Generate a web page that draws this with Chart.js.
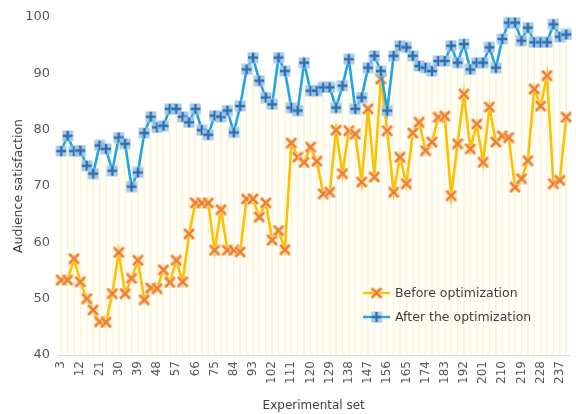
<!DOCTYPE html>
<html>
<head>
<meta charset="utf-8">
<script src="https://cdn.jsdelivr.net/npm/chart.js@4.4.1/dist/chart.umd.min.js"></script>
<style>
  html, body { margin: 0; padding: 0; background: #ffffff; overflow: hidden; }
  canvas { display: block; }
</style>
</head>
<body>
<canvas id="chart" width="576" height="414"></canvas>
<script>
// Experimental set numbers (one point every 3 sets)
const experimentalSets = [
  3, 6, 9, 12, 15, 18, 21, 24, 27, 30, 33, 36, 39, 42, 45, 48, 51, 54, 57, 60,
  63, 66, 69, 72, 75, 78, 81, 84, 87, 90, 93, 96, 99, 102, 105, 108, 111, 114, 117, 120,
  123, 126, 129, 132, 135, 138, 141, 144, 147, 150, 153, 156, 159, 162, 165, 168, 171, 174, 177, 180,
  183, 186, 189, 192, 195, 198, 201, 204, 207, 210, 213, 216, 219, 222, 225, 228, 231, 234, 237, 240
];

// Audience satisfaction before optimization
const beforeOptimization = [
  53.3, 53.3, 57.1, 53.0, 50.0, 48.0, 45.9, 45.8, 50.9, 58.2,
  50.9, 53.6, 56.8, 49.8, 51.9, 51.8, 55.1, 52.9, 56.8, 53.0,
  61.5, 67.0, 67.0, 67.0, 58.6, 65.8, 58.6, 58.6, 58.3, 67.7,
  67.7, 64.5, 67.0, 60.4, 62.1, 58.7, 77.6, 75.1, 74.2, 76.9,
  74.4, 68.6, 68.9, 79.9, 72.2, 79.8, 79.2, 70.7, 83.7, 71.6,
  89.0, 79.8, 68.9, 75.1, 70.4, 79.4, 81.3, 76.3, 77.8, 82.2,
  82.4, 68.3, 77.5, 86.3, 76.6, 81.0, 74.2, 84.0, 77.8, 78.9,
  78.6, 69.8, 71.3, 74.5, 87.2, 84.2, 89.6, 70.4, 71.0, 82.2
];

// Audience satisfaction after the optimization
const afterOptimization = [
  76.2, 78.9, 76.2, 76.3, 73.6, 72.2, 77.2, 76.6, 72.7, 78.6,
  77.5, 69.9, 72.4, 79.4, 82.3, 80.4, 80.7, 83.7, 83.7, 82.3,
  81.3, 83.7, 79.9, 79.1, 82.5, 82.3, 83.4, 79.5, 84.2, 90.7,
  92.8, 88.7, 85.7, 84.5, 92.8, 90.4, 83.9, 83.4, 91.9, 86.9,
  86.9, 87.5, 87.5, 83.9, 87.8, 92.5, 83.7, 85.7, 91.0, 93.1,
  90.4, 83.4, 93.1, 94.9, 94.6, 93.1, 91.3, 91.0, 90.4, 92.2,
  92.2, 94.9, 91.9, 95.2, 90.7, 91.9, 91.9, 94.6, 91.0, 96.1,
  99.0, 99.0, 95.8, 98.1, 95.5, 95.5, 95.5, 98.7, 96.5, 96.9
];

const seriesNames = ['Before optimization', 'After the optimization'];
const yTicks = [40, 50, 60, 70, 80, 90, 100];

const BEFORE_LINE = '#FFC000';
const AFTER_LINE = '#1FA5E6';
const FONT = '"DejaVu Sans", Verdana, sans-serif';

// Orange "x" marker
function makeCrossMarker() {
  const s = 12, c = document.createElement('canvas');
  c.width = s; c.height = s;
  const g = c.getContext('2d');
  g.lineCap = 'round';
  g.strokeStyle = 'rgba(250,200,150,0.9)';
  g.lineWidth = 4;
  g.beginPath();
  g.moveTo(2, 2); g.lineTo(10, 10);
  g.moveTo(10, 2); g.lineTo(2, 10);
  g.stroke();
  g.strokeStyle = '#EC7B2C';
  g.lineWidth = 2.2;
  g.beginPath();
  g.moveTo(2, 2); g.lineTo(10, 10);
  g.moveTo(10, 2); g.lineTo(2, 10);
  g.stroke();
  return c;
}

// Blue "+" marker on a light square
function makePlusMarker() {
  const s = 12, c = document.createElement('canvas');
  c.width = s; c.height = s;
  const g = c.getContext('2d');
  g.fillStyle = 'rgba(158,197,232,0.9)';
  g.fillRect(0.5, 0.5, s - 1, s - 1);
  g.strokeStyle = '#2D6FB0';
  g.lineWidth = 2.4;
  g.beginPath();
  g.moveTo(6, 1); g.lineTo(6, 11);
  g.moveTo(1, 6); g.lineTo(11, 6);
  g.stroke();
  return c;
}

const crossMarker = makeCrossMarker();
const plusMarker = makePlusMarker();

// Legend drawn inside the plot, lower right
const innerLegend = {
  id: 'innerLegend',
  afterDatasetsDraw(chart) {
    const ctx = chart.ctx;
    const items = [
      { text: seriesNames[0], color: BEFORE_LINE, marker: crossMarker, y: 293 },
      { text: seriesNames[1], color: AFTER_LINE, marker: plusMarker, y: 317 }
    ];
    ctx.save();
    items.forEach(it => {
      ctx.strokeStyle = it.color;
      ctx.lineWidth = 2.5;
      ctx.beginPath();
      ctx.moveTo(363, it.y);
      ctx.lineTo(390, it.y);
      ctx.stroke();
      ctx.drawImage(it.marker, 376.5 - 6, it.y - 6);
      ctx.fillStyle = '#404040';
      ctx.font = '12.5px ' + FONT;
      ctx.textBaseline = 'middle';
      ctx.textAlign = 'left';
      ctx.fillText(it.text, 395, it.y + 0.5);
    });
    ctx.restore();
  }
};

new Chart(document.getElementById('chart'), {
  type: 'line',
  data: {
    labels: experimentalSets,
    datasets: [
      {
        type: 'bar',
        label: 'drop',
        data: afterOptimization,
        backgroundColor: 'rgba(253,236,160,0.55)',
        barThickness: 1,
        order: 3
      },
      {
        label: seriesNames[0],
        data: beforeOptimization,
        borderColor: BEFORE_LINE,
        borderWidth: 2.6,
        pointStyle: crossMarker,
        tension: 0,
        order: 2
      },
      {
        label: seriesNames[1],
        data: afterOptimization,
        borderColor: AFTER_LINE,
        borderWidth: 2.6,
        pointStyle: plusMarker,
        tension: 0,
        order: 1
      }
    ]
  },
  options: {
    responsive: false,
    animation: false,
    devicePixelRatio: 1,
    layout: { padding: { top: 17, left: 7, right: 1, bottom: 0 } },
    plugins: {
      legend: { display: false },
      tooltip: { enabled: false }
    },
    scales: {
      x: {
        type: 'category',
        offset: true,
        grid: { display: false, drawTicks: false },
        border: { display: true, color: '#D9D9D9', width: 1 },
        ticks: {
          autoSkip: false,
          minRotation: 90,
          maxRotation: 90,
          padding: 6,
          color: '#595959',
          font: { family: FONT, size: 12 },
          callback: function (value, index) {
            return index % 3 === 0 ? String(experimentalSets[index]) : '';
          }
        },
        title: {
          display: true,
          text: 'Experimental set',
          color: '#404040',
          font: { family: FONT, size: 12 },
          padding: { top: 0, bottom: 1 }
        },
        afterFit(scale) {
          scale.height = 59;
          scale.paddingLeft = 0;
          scale.paddingRight = 0;
        }
      },
      y: {
        min: 40,
        max: 100,
        afterBuildTicks(scale) {
          scale.ticks = yTicks.map(v => ({ value: v }));
        },
        grid: { display: false, drawTicks: false },
        border: { display: false },
        ticks: {
          padding: 8,
          color: '#595959',
          font: { family: FONT, size: 13 }
        },
        title: {
          display: true,
          text: 'Audience satisfaction',
          color: '#404040',
          font: { family: FONT, size: 12.5 },
          padding: { top: 4, bottom: 0 }
        },
        afterFit(scale) {
          scale.width = 51;
        }
      }
    }
  },
  plugins: [innerLegend]
});
</script>
</body>
</html>
